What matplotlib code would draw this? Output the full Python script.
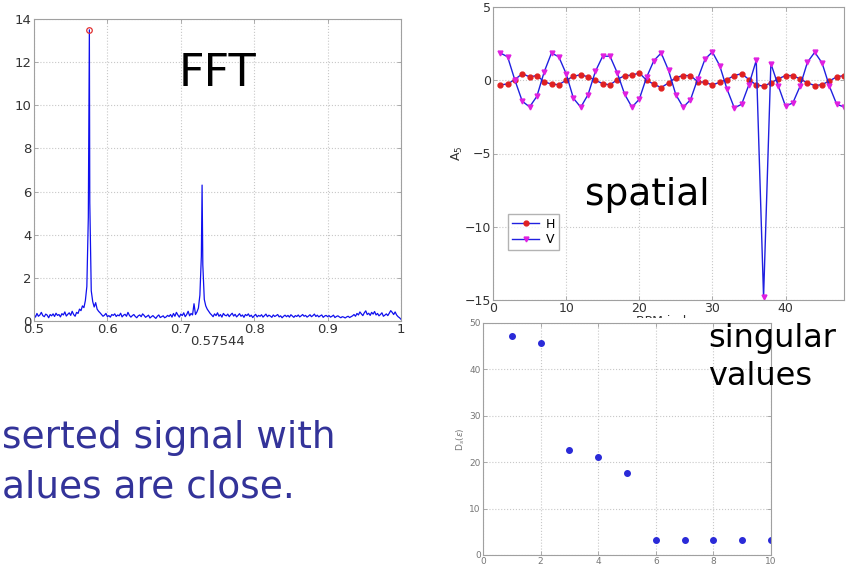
import numpy as np
import matplotlib
matplotlib.use("Agg")
import matplotlib.pyplot as plt
from matplotlib.patches import Rectangle

# spectrum of the turn-by-turn signal (baseline sampled every 0.002 in tune)
fft_amp = [
    0.30, 0.18, 0.35, 0.22, 0.28, 0.40, 0.25, 0.20, 0.32, 0.27,
    0.15, 0.30, 0.24, 0.33, 0.21, 0.36, 0.26, 0.30, 0.19, 0.34,
    0.28, 0.42, 0.23, 0.31, 0.38, 0.26, 0.45, 0.30, 0.22, 0.40,
    0.35, 0.55, 0.48, 0.70, 0.62, 0.95, 1.6,
    4.8,
    5.5,
    1.4, 0.9, 0.65, 0.85, 0.55, 0.45, 0.38,
    0.30, 0.22, 0.27, 0.35, 0.20, 0.25, 0.18, 0.30, 0.26, 0.33,
    0.21, 0.28, 0.24, 0.36, 0.19, 0.27, 0.31, 0.22, 0.40, 0.26,
    0.18, 0.25, 0.30, 0.21, 0.15, 0.24, 0.28, 0.20, 0.33, 0.26,
    0.17, 0.22, 0.27, 0.14, 0.20, 0.25, 0.18, 0.12, 0.22, 0.28,
    0.16, 0.20, 0.24, 0.15, 0.19, 0.26, 0.21, 0.30, 0.18,
    0.35, 0.22, 0.40, 0.28, 0.18, 0.32, 0.25, 0.38, 0.20, 0.30,
    0.45, 0.24, 0.35, 0.28, 0.80, 0.30, 0.42, 0.60, 1.2, 3.0,
    2.6, 1.0, 0.70, 0.55, 0.45, 0.35,
    0.28, 0.20, 0.33, 0.25, 0.38, 0.22, 0.30, 0.18, 0.35, 0.27,
    0.24, 0.32, 0.20, 0.29, 0.36, 0.23, 0.31, 0.19, 0.26, 0.34,
    0.22, 0.28, 0.17, 0.30, 0.25, 0.33, 0.21, 0.27, 0.16, 0.24,
    0.31, 0.19, 0.26, 0.22, 0.29, 0.18, 0.25, 0.32, 0.20, 0.27,
    0.23, 0.17, 0.28, 0.21, 0.25, 0.30, 0.19, 0.24, 0.15, 0.22,
    0.27, 0.20, 0.26, 0.18, 0.29, 0.23, 0.17, 0.25, 0.21, 0.28,
    0.19, 0.24, 0.30, 0.22, 0.26, 0.18, 0.23, 0.29, 0.20, 0.25,
    0.32, 0.21, 0.27, 0.19, 0.24, 0.28, 0.17, 0.23, 0.26, 0.20,
    0.25, 0.18, 0.22, 0.27, 0.16, 0.21, 0.24, 0.19, 0.15, 0.20,
    0.18, 0.14, 0.19, 0.22, 0.16, 0.20, 0.24, 0.30, 0.22, 0.35,
    0.28, 0.42, 0.33, 0.25, 0.38, 0.47, 0.30, 0.36, 0.26, 0.40,
    0.32, 0.44, 0.28, 0.35, 0.24, 0.30, 0.38, 0.22, 0.27, 0.33,
    0.25, 0.36, 0.48, 0.40, 0.30, 0.42, 0.28, 0.20, 0.15, 0.08,
]
peak_tunes = [0.57544, 0.729]
peak_amps = [13.5, 6.3]
fft_xticks = [0.5, 0.6, 0.7, 0.8, 0.9, 1.0]
fft_xticklabels = ["0.5", "0.6", "0.7", "0.8", "0.9", "1"]

# spatial pattern along the ring
bpm = list(range(1, 49))
h_plane = [
    -0.32, -0.25, 0.05, 0.45, 0.23, 0.32, -0.10, -0.27, -0.30, 0.00,
    0.27, 0.38, 0.23, 0.00, -0.23, -0.32, 0.05, 0.32, 0.34, 0.50,
    0.00, -0.27, -0.50, -0.18, 0.18, 0.32, 0.32, -0.10, -0.14, -0.32,
    -0.14, 0.05, 0.32, 0.45, 0.05, -0.32, -0.40, -0.18, 0.09, 0.32,
    0.32, 0.09, -0.18, -0.36, -0.30, -0.05, 0.23, 0.32,
]
v_plane = [
    1.86, 1.60, 0.00, -1.43, -1.82, -1.10, 0.57, 1.86, 1.60, 0.45,
    -1.23, -1.84, -0.98, 0.60, 1.64, 1.64, 0.50, -0.95, -1.84, -1.30,
    0.20, 1.34, 1.86, 0.68, -0.98, -1.84, -1.34, 0.10, 1.45, 1.93,
    1.00, -0.60, -1.89, -1.64, -0.30, 1.36, -14.8, 1.14, -0.36, -1.77,
    -1.55, -0.40, 1.23, 1.91, 1.18, -0.40, -1.64, -1.82,
]

# singular values
sv_index = [1, 2, 3, 4, 5, 6, 7, 8, 9, 10]
sv_values = [47.1, 45.6, 22.6, 21.2, 17.6, 3.3, 3.3, 3.3, 3.2, 3.2]

W, H = 850, 569
fig = plt.figure(figsize=(W / 100, H / 100), dpi=100)


def px_axes(left, top, right, bottom):
    return fig.add_axes([left / W, 1 - bottom / H, (right - left) / W, (bottom - top) / H])


def matlab_style(ax, size):
    for s in ax.spines.values():
        s.set_color("#a0a0a0")
        s.set_linewidth(0.8)
    ax.tick_params(direction="in", top=True, right=True, length=3, width=0.6,
                   color="#a0a0a0", labelsize=size, labelcolor="#333333", pad=1.5)
    ax.grid(True, linestyle=":", color="#c8c8c8", linewidth=0.8)
    ax.set_axisbelow(True)


# --- FFT panel
ax1 = px_axes(34, 19, 401, 321)
tune = np.linspace(0.5, 1.0, len(fft_amp))
t_all = np.concatenate([tune, peak_tunes])
a_all = np.concatenate([fft_amp, peak_amps])
order = np.argsort(t_all)
ax1.plot(t_all[order], a_all[order], color="#1010ee", lw=0.9)
ax1.plot(peak_tunes[0], peak_amps[0], "o", mfc="none", mec="#e03030", ms=4, mew=0.9)
ax1.set_xlim(0.5, 1.0)
ax1.set_ylim(0, 14)
ax1.set_xticks(fft_xticks)
ax1.set_xticklabels(fft_xticklabels)
ax1.set_yticks(range(0, 15, 2))
matlab_style(ax1, 9.5)
ax1.set_xlabel(f"{peak_tunes[0]:.5f}", fontsize=9.5, color="#333333", labelpad=-1)
ax1.text(0.5, 0.82, "FFT", transform=ax1.transAxes, ha="center", va="center",
         fontsize=32, color="black")

# --- spatial panel
ax2 = px_axes(493, 7, 844, 300)
ax2.plot(bpm, h_plane, "-o", color="#2020e0", mfc="#e02020", mec="#e02020",
         ms=3.5, lw=1.0, label="H")
ax2.plot(bpm, v_plane, "-v", color="#2020e0", mfc="#e020e0", mec="#e020e0",
         ms=3.5, lw=1.0, label="V")
ax2.set_xlim(0, 48)
ax2.set_ylim(-15, 5)
ax2.set_xticks([0, 10, 20, 30, 40])
ax2.set_yticks([-15, -10, -5, 0, 5])
matlab_style(ax2, 9)
ax2.set_ylabel("A$_5$", fontsize=9, color="#333333", labelpad=0)
ax2.set_xlabel("BPM index", fontsize=9, color="#333333", labelpad=0)
leg = ax2.legend(loc="lower left", bbox_to_anchor=(0.025, 0.15), fontsize=9,
                 frameon=True, fancybox=False, handlelength=2.2, borderpad=0.3,
                 labelspacing=0.2, handletextpad=0.5)
leg.get_frame().set_edgecolor("#a0a0a0")
ax2.text(0.44, 0.36, "spatial", transform=ax2.transAxes, ha="center", va="center",
         fontsize=27, color="black")

# white panel behind the singular value plot
fig.add_artist(Rectangle((450 / W, 0), 1 - 450 / W, 1 - 318 / H,
                         transform=fig.transFigure, facecolor="white",
                         edgecolor="none", zorder=1))

# --- singular values panel
ax3 = px_axes(483, 323, 771, 555)
ax3.set_zorder(2)
ax3.plot(sv_index, sv_values, "o", color="#2a2ad8", ms=4)
ax3.set_xlim(0, 10)
ax3.set_ylim(0, 50)
ax3.set_xticks(range(0, 11, 2))
ax3.set_yticks(range(0, 51, 10))
matlab_style(ax3, 6.5)
ax3.tick_params(labelcolor="#777777")
ax3.set_ylabel(r"D$_s$($\epsilon$)", fontsize=6.5, color="#777777", labelpad=2)

fig.text(708 / W, 1 - 385 / H, "singular\nvalues", ha="left", va="baseline",
         fontsize=23, color="black", linespacing=1.3, zorder=3)

# bottom-left slide text
fig.text(2 / W, 1 - 448 / H, "serted signal with", ha="left", va="baseline",
         fontsize=27, color="#333399")
fig.text(2 / W, 1 - 498 / H, "alues are close.", ha="left", va="baseline",
         fontsize=27, color="#333399")

fig.savefig("out.png", dpi=100)
